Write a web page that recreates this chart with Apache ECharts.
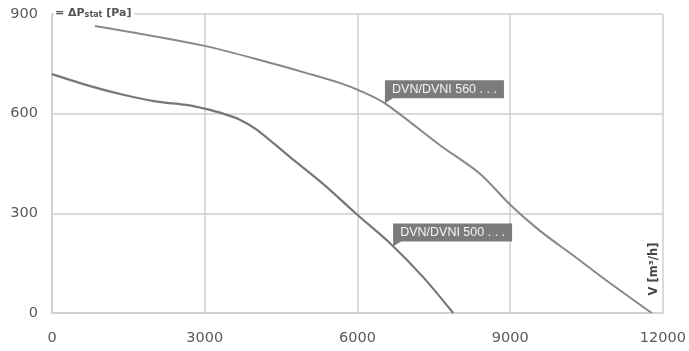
<!DOCTYPE html>
<html>
<head>
<meta charset="utf-8">
<script src="https://cdn.jsdelivr.net/npm/echarts@6/dist/echarts.min.js"></script>
<style>html,body{margin:0;padding:0;background:#fff}#c{width:689px;height:351px}</style>
</head>
<body>
<div id="c"></div>
<script>
// Data
var xTicks = [0, 3000, 6000, 9000, 12000];
var yTicks = [0, 300, 600, 900];

var flow500 = [0, 750, 1400, 2000, 2700, 3000, 3360, 3690, 4020, 4670, 5330, 5980, 6640, 7290, 7880];
var pres500 = [719, 683, 657, 638, 625, 615, 600, 582, 552, 470, 388, 298, 210, 108, 0];

var flow560 = [845, 3000, 4350, 5000, 5660, 6020, 6540, 7620, 8400, 9000, 9580, 10240, 10890, 11780];
var pres560 = [864, 804, 750, 722, 692, 671, 631, 505, 420, 326, 248, 173, 98, 0];

var name500 = 'DVN/DVNI 500 . . .';
var name560 = 'DVN/DVNI 560 . . .';
var anchor500 = [6700, 200];
var anchor560 = [6540, 631];

function pairs(xs, ys) { return xs.map(function (x, i) { return [x, ys[i]]; }); }

function callout(name, anchor) {
  return {
    silent: true,
    animation: false,
    symbol: 'path://M0,0H119V18H8L0,23Z',
    symbolSize: [119, 23],
    symbolOffset: [59.5, -11.5],
    itemStyle: { color: '#7b7b7b' },
    label: {
      show: true, position: 'inside', offset: [0, -2.5],
      color: '#f4f4f4', fontSize: 12.5, fontFamily: 'Liberation Sans',
      formatter: name
    },
    data: [{ coord: anchor }]
  };
}

var labelFont = { color: '#5a5a5a', fontSize: 14.5, fontFamily: 'DejaVu Sans' };

var chart = echarts.init(document.getElementById('c'));
chart.setOption({
  animation: false,
  backgroundColor: '#fff',
  grid: { left: 52, right: 26, top: 14, bottom: 38 },
  xAxis: {
    type: 'value', min: 0, max: 12000, interval: 3000,
    axisLine: { show: true, lineStyle: { color: '#cfcfcf', width: 1.5 } },
    axisTick: { show: false },
    splitLine: { show: true, lineStyle: { color: '#cfcfcf', width: 1.5 } },
    axisLabel: Object.assign({ margin: 18,
      formatter: function (v) { return xTicks.indexOf(v) >= 0 ? String(v) : ''; } }, labelFont)
  },
  yAxis: {
    type: 'value', min: 0, max: 900, interval: 300,
    axisLine: { show: true, lineStyle: { color: '#cfcfcf', width: 1.5 } },
    axisTick: { show: false },
    splitLine: { show: true, lineStyle: { color: '#cfcfcf', width: 1.5 } },
    axisLabel: Object.assign({ margin: 14,
      formatter: function (v) { return yTicks.indexOf(v) >= 0 ? String(v) : ''; } }, labelFont)
  },
  series: [
    {
      type: 'line', name: name560, data: pairs(flow560, pres560),
      showSymbol: false, smooth: 0.3,
      lineStyle: { color: '#888', width: 2 },
      markPoint: callout(name560, anchor560)
    },
    {
      type: 'line', name: name500, data: pairs(flow500, pres500),
      showSymbol: false, smooth: 0.3,
      lineStyle: { color: '#777', width: 2.2 },
      markPoint: callout(name500, anchor500)
    }
  ],
  graphic: [
    {
      type: 'text', left: 54, top: 7, z: 100,
      style: {
        text: '{a|= ΔP}{b|stat}{a| [Pa]}',
        backgroundColor: '#fff', padding: [0, 3, 0, 1],
        rich: {
          a: { fontSize: 11, fontWeight: 'bold', fill: '#555', fontFamily: 'DejaVu Sans', verticalAlign: 'bottom' },
          b: { fontSize: 8, fontWeight: 'bold', fill: '#555', fontFamily: 'DejaVu Sans', verticalAlign: 'bottom', padding: [4, 0, 0, 0] }
        }
      }
    },
    {
      type: 'text', x: 654, y: 269, rotation: Math.PI / 2, z: 100,
      style: {
        text: 'V [m³/h]', fontSize: 11.5, fontWeight: 'bold', fill: '#444',
        fontFamily: 'DejaVu Sans', align: 'center', verticalAlign: 'middle'
      }
    }
  ]
});
</script>
</body>
</html>
